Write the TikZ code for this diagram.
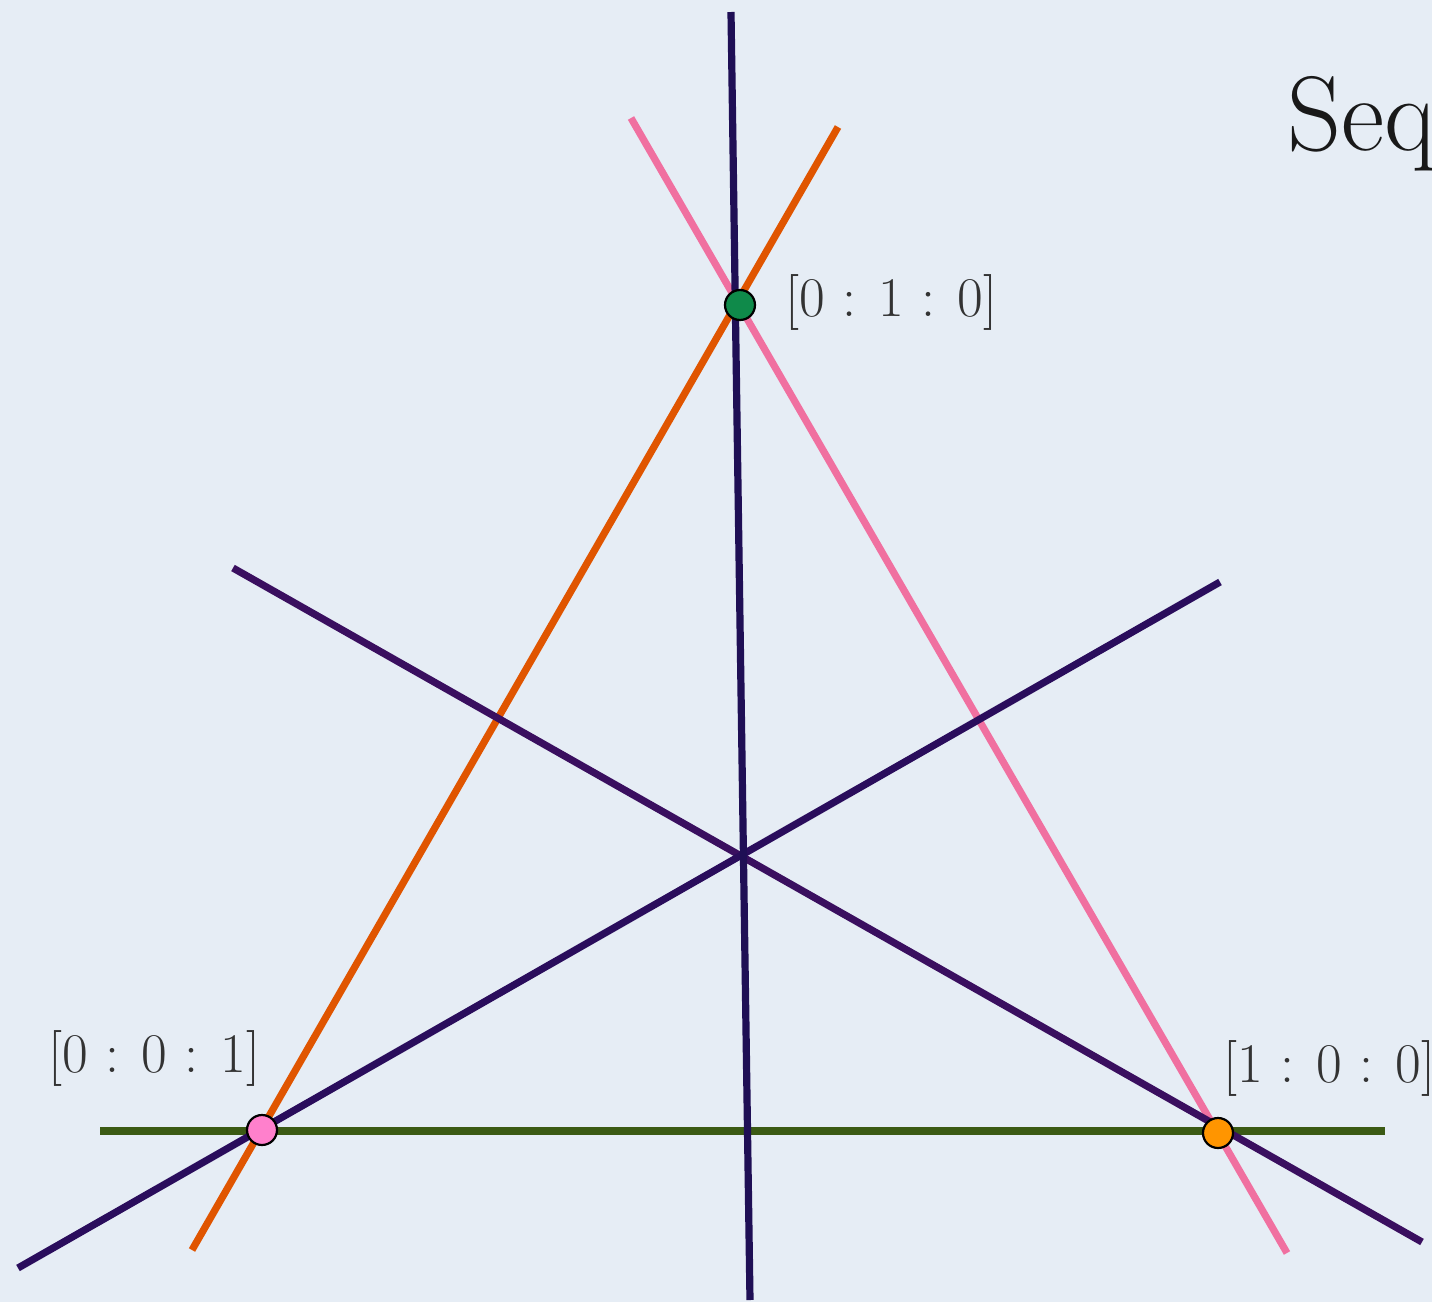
\documentclass[tikz,border=0pt]{standalone}
\definecolor{bgc}{HTML}{E6EDF5}
\definecolor{lgreen}{HTML}{3B5A14}
\definecolor{lnavy}{HTML}{1F0F55}
\definecolor{lorange}{HTML}{E05500}
\definecolor{lpink}{HTML}{F070A0}
\definecolor{lpurple}{HTML}{3A0F5F}
\definecolor{lindigo}{HTML}{2A0D5C}
\definecolor{ppink}{HTML}{FF80CC}
\definecolor{porange}{HTML}{FF9500}
\definecolor{pgreen}{HTML}{0F8A4A}
\definecolor{labc}{HTML}{333333}
\tikzset{
  projline/.style={line width=3.6pt},
  ptdot/.style={circle, draw=black, line width=1.1pt, minimum size=15pt, inner sep=0pt},
  ptlabel/.style={anchor=west, inner sep=0pt, text=labc, font=\fontsize{28}{34}\selectfont}
}
\begin{document}
\begin{tikzpicture}[x=0.5pt,y=-0.5pt]
\fill[bgc] (0,0) rectangle (1432,1302);
\useasboundingbox (0,0) rectangle (1432,1302);
% line end coordinates
\coordinate (gA) at (100,1131);  \coordinate (gB) at (1385,1131);
\coordinate (vA) at (731,12);    \coordinate (vB) at (750,1300);
\coordinate (oA) at (838,127);   \coordinate (oB) at (192,1250);
\coordinate (pA) at (631,118);   \coordinate (pB) at (1287,1253);
\coordinate (uA) at (233,568);   \coordinate (uB) at (1422,1242);
\coordinate (dA) at (18,1268);   \coordinate (dB) at (1220,582);
% lines
\draw[projline, lgreen] (gA) -- (gB);
\draw[projline, lorange] (oA) -- (oB);
\draw[projline, lpink] (pA) -- (pB);
\draw[projline, lpurple] (uA) -- (uB);
\draw[projline, lindigo] (dA) -- (dB);
\draw[projline, lnavy] (vA) -- (vB);
% points
\node[ptdot, fill=pgreen] (p010) at (740,305) {};
\node[ptdot, fill=ppink] (p001) at (262,1130) {};
\node[ptdot, fill=porange] (p100) at (1218,1133) {};
% labels
\node[ptlabel] (l010) at (785,302) {[0 : 1 : 0]};
\node[ptlabel] (l001) at (48,1058) {[0 : 0 : 1]};
\node[ptlabel] (l100) at (1223,1068) {[1 : 0 : 0]};
\node[anchor=base west, inner sep=0pt, text=black!90, font=\fontsize{53}{60}\selectfont] (title) at (1287,150) {Seq};
\end{tikzpicture}
\end{document}
